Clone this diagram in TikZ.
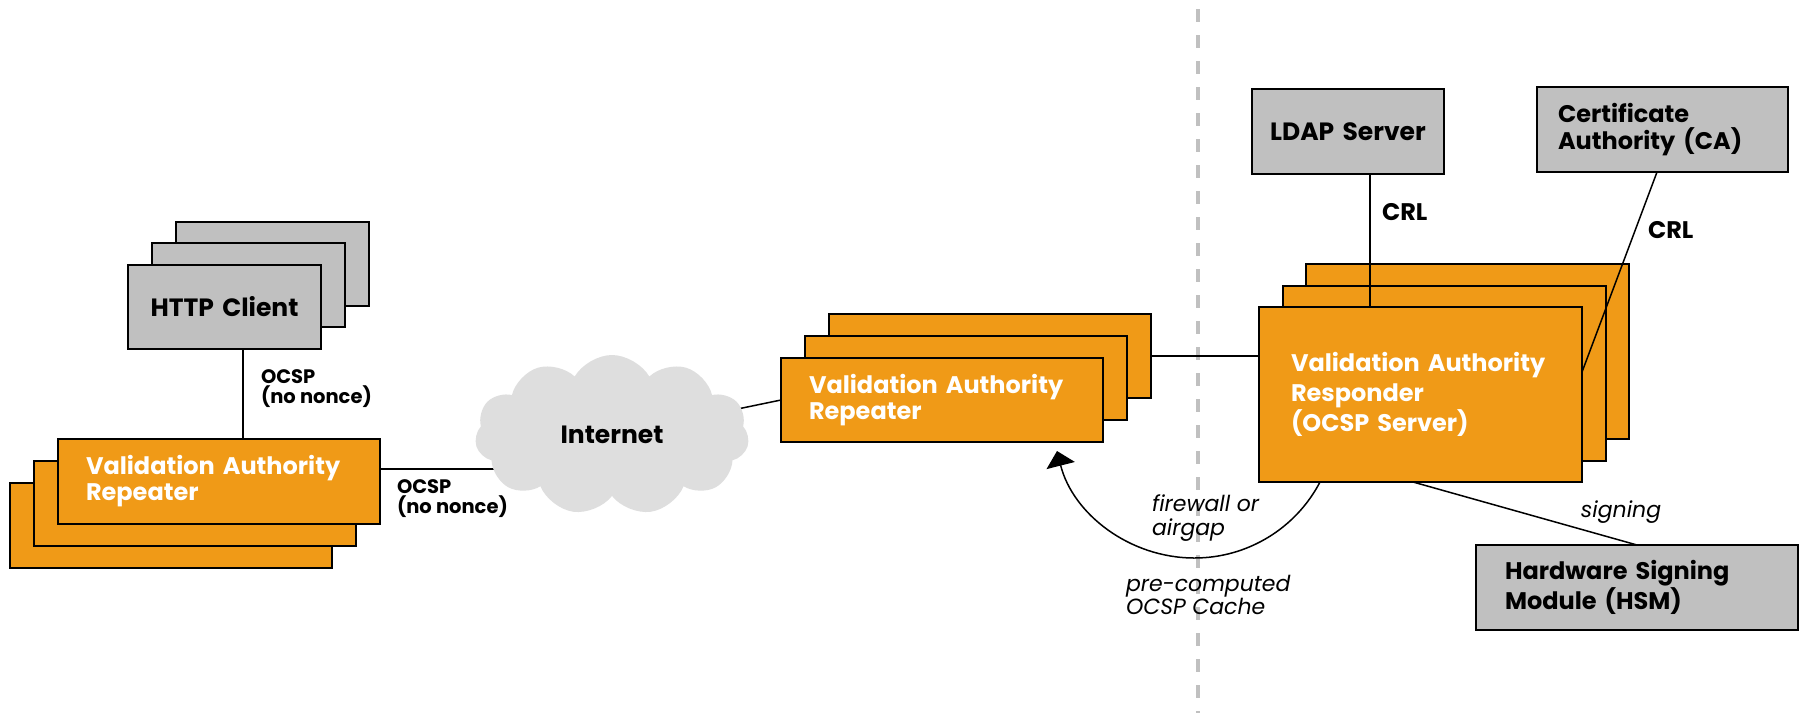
\documentclass[tikz,border=0pt]{standalone}
\usepackage{fontspec}
\setmainfont{Poppins}
\usetikzlibrary{shapes.symbols,arrows.meta}
\definecolor{vaorange}{RGB}{240,154,23}
\definecolor{boxgray}{RGB}{192,192,192}
\definecolor{cloudgray}{RGB}{222,222,222}
\definecolor{zonegray}{RGB}{192,192,192}
\pgfdeclarelayer{bg}
\pgfsetlayers{bg,main}
\begin{document}
\begin{tikzpicture}[x=1pt,y=-1pt,
  every node/.style={inner sep=0pt, outer sep=0pt},
  frame/.style={draw=black, line width=1.8pt, anchor=north west, rectangle,
    execute at begin node={\hyphenpenalty=10000\exhyphenpenalty=10000}},
  vabox/.style={frame, fill=vaorange, text=white,
    font=\bfseries\fontsize{24}{26}\selectfont, align=left, inner xsep=28pt},
  greybox/.style={frame, fill=boxgray, text=black,
    font=\bfseries\fontsize{24}{27}\selectfont, align=left, inner xsep=21pt},
  wire/.style={draw=black, line width=1.5pt},
  tag/.style={font=\bfseries\fontsize{19.5}{19.5}\selectfont, align=left, anchor=north west},
  bigtag/.style={font=\bfseries\fontsize{24}{26}\selectfont, anchor=base west},
  note/.style={font=\itshape\fontsize{22}{23.5}\selectfont, align=left, anchor=north west},
]
\useasboundingbox (0,0) rectangle (1799,713);
\begin{pgfonlayer}{bg}
  \fill[white] (0,0) rectangle (1799,713);
  % trust boundary
  \draw[zonegray, line width=4.5pt, dash pattern=on 13pt off 13pt] (1198,9) -- (1198,713);
\end{pgfonlayer}

% HTTP clients
\node[greybox, minimum width=193pt, minimum height=84pt] (http3) at (176,222) {};
\node[greybox, minimum width=193pt, minimum height=84pt] (http2) at (152,243) {};
\node[greybox, minimum width=193pt, minimum height=84pt, text width=173pt, inner xsep=10pt, align=center,
  font=\bfseries\fontsize{25}{27}\selectfont] (http) at (128,265) {HTTP Client};

% local repeaters
\node[vabox, minimum width=322pt, minimum height=85pt] (vaL3) at (10,483) {};
\node[vabox, minimum width=322pt, minimum height=85pt] (vaL2) at (34,461) {};
\node[vabox, minimum width=322pt, minimum height=85pt, text width=266pt, inner xsep=28pt] (vaL) at (58,439) {Validation Authority\\Repeater};

% internet
\node[cloud, cloud puffs=11, cloud puff arc=120, aspect=1.7, fill=cloudgray, draw=none,
  minimum width=274pt, minimum height=160pt, font=\bfseries\fontsize{25}{26}\selectfont] (inet) at (612,435) {Internet};

% public repeaters
\node[vabox, minimum width=322pt, minimum height=84pt] (vaM3) at (829,314) {};
\node[vabox, minimum width=322pt, minimum height=84pt] (vaM2) at (805,336) {};
\node[vabox, minimum width=322pt, minimum height=84pt, text width=266pt, inner xsep=28pt] (vaM) at (781,358) {Validation Authority\\Repeater};

% responders
\node[vabox, minimum width=323pt, minimum height=175pt] (resp3) at (1306,264) {};
\node[vabox, minimum width=323pt, minimum height=175pt] (resp2) at (1283,286) {};
\node[vabox, minimum width=323pt, minimum height=175pt, text width=263pt, inner xsep=30pt,
  font=\bfseries\fontsize{24}{30}\selectfont] (resp) at (1259,307) {\hspace*{2pt}Validation Authority\\\hspace*{2pt}Responder\\\hspace*{2pt}(OCSP Server)};

% back-end services
\node[greybox, minimum width=192pt, minimum height=85pt, text width=176pt, inner xsep=8pt, align=center,
  font=\bfseries\fontsize{25}{27}\selectfont] (ldap) at (1252,89) {LDAP Server};
\node[greybox, minimum width=251pt, minimum height=85pt, text width=209pt] (ca) at (1537,87) {Certificate\\Authority (CA)};
\node[greybox, minimum width=322pt, minimum height=85pt, text width=264pt, inner xsep=29pt,
  font=\bfseries\fontsize{24}{25}\selectfont] (hsm) at (1476,545) {Hardware Signing\\Module (HSM)};

% connectors
\coordinate (vaLport) at ([yshift=12.5pt]vaL.east);
\draw[wire] ([xshift=18.5pt]http.south) -- ([xshift=18.5pt]http.south |- vaL.north);
\begin{pgfonlayer}{bg}
  \draw[wire] (vaLport) -- (vaLport -| inet.center);
  \draw[wire] (vaM.west) -- (inet.center);
\end{pgfonlayer}
\draw[wire] (vaM3.east) -- (vaM3.east -| resp.west);
\draw[wire] ([xshift=22pt]ldap.south) -- ([xshift=22pt]ldap.south |- resp.north);
\draw[wire] ([xshift=-5.5pt]ca.south) -- ([yshift=22.5pt]resp.east);
\draw[wire] ([xshift=-7.5pt]resp.south) -- (hsm.north);

% cache hand-over across the boundary
\coordinate (cachebottom) at (1194.4,558);
\draw[wire] ([xshift=-100.5pt]resp.south) .. controls (1295.6,528.7) and (1247.2,558) .. (cachebottom);
\draw[wire, -{Triangle[width=29pt,length=15pt]}] (cachebottom) .. controls (1129.5,558) and (1072.9,513.9) .. ([xshift=115pt,yshift=-9pt]vaM.south);

% labels
\node[tag] at (261,370) {OCSP\\(no nonce)};
\node[tag] at (397,480) {OCSP\\(no nonce)};
\node[bigtag] at (1382,220) {CRL};
\node[bigtag] at (1648,238) {CRL};
\node[note, anchor=base] at (1621,517) {signing};
\node[note] at (1152,495) {firewall or\\airgap};
\node[note] at (1126,575) {pre-computed\\OCSP Cache};
\end{tikzpicture}
\end{document}
